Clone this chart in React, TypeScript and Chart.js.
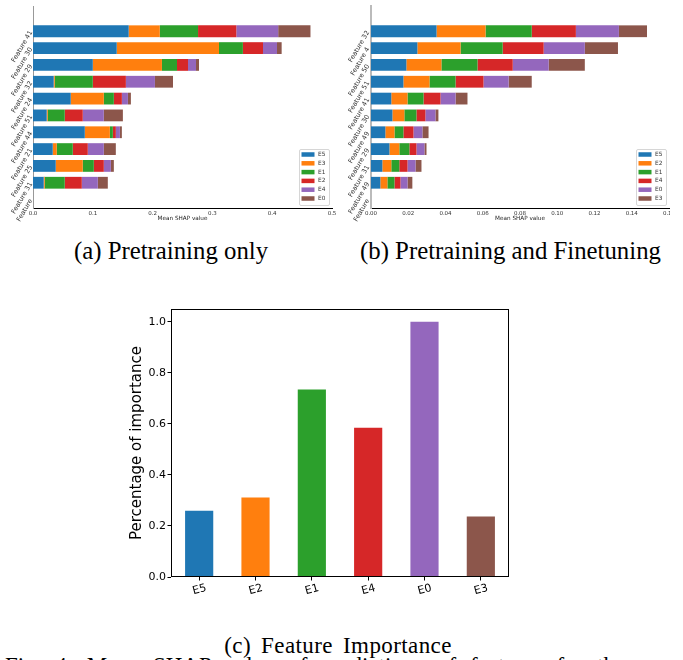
import React, { useEffect, useRef } from 'react';
import { Chart, registerables } from 'chart.js';

Chart.register(...registerables);

// ---------- data ----------
const COLORS = ['#1f77b4', '#ff7f0e', '#2ca02c', '#d62728', '#9467bd', '#8c564b'];

// (a) Pretraining only
const featuresA = ['Feature 41', 'Feature 30', 'Feature 29', 'Feature 32', 'Feature 24', 'Feature 51', 'Feature 44', 'Feature 21', 'Feature 25', 'Feature 31'];
const seriesNamesA = ['E5', 'E3', 'E1', 'E2', 'E4', 'E0'];
const preE5 = [0.160, 0.140, 0.100, 0.0346, 0.0631, 0.0229, 0.0866, 0.033, 0.038, 0.0179];
const preE3 = [0.052, 0.171, 0.1156, 0.0017, 0.0553, 0.0017, 0.0419, 0.0067, 0.0452, 0.0017];
const preE1 = [0.064, 0.040, 0.0252, 0.0637, 0.0168, 0.0285, 0.005, 0.0268, 0.0185, 0.0335];
const preE2 = [0.064, 0.0336, 0.0184, 0.0553, 0.0134, 0.0301, 0.005, 0.0251, 0.0167, 0.0285];
const preE4 = [0.070, 0.0234, 0.0134, 0.0486, 0.0101, 0.0352, 0.0068, 0.0268, 0.0118, 0.0268];
const preE0 = [0.054, 0.0078, 0.005, 0.0302, 0.005, 0.0319, 0.0033, 0.0201, 0.005, 0.0167];
const xTicksA = { max: 0.5, step: 0.1, decimals: 1 };

// (b) Pretraining and Finetuning
const featuresB = ['Feature 32', 'Feature 4', 'Feature 50', 'Feature 51', 'Feature 41', 'Feature 30', 'Feature 49', 'Feature 29', 'Feature 31', 'Feature 49'];
const seriesNamesB = ['E5', 'E2', 'E1', 'E4', 'E0', 'E3'];
const ftE5 = [0.0352, 0.0249, 0.019, 0.0174, 0.0109, 0.0115, 0.0077, 0.0099, 0.0061, 0.005];
const ftE2 = [0.0263, 0.0232, 0.0188, 0.014, 0.0087, 0.0064, 0.0049, 0.0053, 0.0048, 0.0038];
const ftE1 = [0.0248, 0.0226, 0.0194, 0.014, 0.0086, 0.0065, 0.0048, 0.0054, 0.0043, 0.0038];
const ftE4 = [0.0237, 0.022, 0.0189, 0.015, 0.0091, 0.0048, 0.0054, 0.0038, 0.0044, 0.0032];
const ftE0 = [0.0231, 0.0221, 0.0193, 0.0135, 0.0081, 0.0054, 0.0048, 0.0043, 0.0043, 0.0038];
const ftE3 = [0.0151, 0.0178, 0.0194, 0.0124, 0.0064, 0.0016, 0.0033, 0.0011, 0.0032, 0.0026];
const xTicksB = { max: 0.16, step: 0.02, decimals: 2 };

const bottomTickLabel = 'Feature';

// (c) Feature Importance
const importanceLabels = ['E5', 'E2', 'E1', 'E4', 'E0', 'E3'];
const importanceValues = [0.26, 0.311, 0.735, 0.585, 1.0, 0.237];

// ---------- plugins ----------
const boxLegend = {
  id: 'boxLegend',
  afterDraw(chart: any, _args: any, opts: any) {
    const { ctx, chartArea } = chart;
    const ds = chart.data.datasets;
    const w = opts.width, h = opts.height;
    const x = chartArea.right - opts.margin - w;
    const y = chartArea.bottom - opts.margin - h;
    ctx.save();
    ctx.fillStyle = 'rgba(255,255,255,0.85)';
    ctx.strokeStyle = '#cccccc';
    ctx.lineWidth = 0.8;
    ctx.beginPath();
    (ctx as any).roundRect(x + 0.5, y + 0.5, w, h, 1.5);
    ctx.fill();
    ctx.stroke();
    ctx.font = `${opts.fontSize}px "DejaVu Sans"`;
    ctx.textBaseline = 'middle';
    ctx.textAlign = 'left';
    ds.forEach((d: any, i: number) => {
      const cy = y + opts.firstRow + i * opts.rowGap;
      ctx.fillStyle = d.backgroundColor;
      ctx.fillRect(x + opts.swatchX, cy - opts.swatchH / 2, opts.swatchW, opts.swatchH);
      ctx.fillStyle = '#333';
      ctx.fillText(d.label, x + opts.textX, cy);
    });
    ctx.restore();
  },
};

const frame = {
  id: 'frame',
  afterDraw(chart: any) {
    const { ctx, chartArea } = chart;
    const l = Math.round(chartArea.left) + 0.5;
    const t = Math.round(chartArea.top) + 0.5;
    const r = Math.round(chartArea.right) - 0.5;
    const b = Math.round(chartArea.bottom) - 0.5;
    ctx.save();
    ctx.strokeStyle = '#000';
    ctx.lineWidth = 1;
    ctx.strokeRect(l, t, r - l, b - t);
    ctx.restore();
  },
};

// ---------- configs ----------
function shapConfig(features: string[], names: string[], series: number[][], xt: any, geom: any) {
  const datasets = names.map((n, i) => ({
    label: n,
    data: series[i].map((v, j) => ({ x: v, y: j })),
    backgroundColor: COLORS[i],
    borderWidth: 0,
    barPercentage: 0.7,
    categoryPercentage: 1.0,
  }));
  const tickFont = { family: 'DejaVu Sans', size: 5.5 };
  return {
    type: 'bar',
    data: { datasets },
    options: {
      indexAxis: 'y',
      responsive: false,
      animation: false,
      layout: { padding: { top: 6, right: geom.padRight, left: 0, bottom: 0 } },
      plugins: {
        legend: { display: false },
        tooltip: { enabled: false },
        boxLegend: {
          width: 30, height: 56, margin: 3, firstRow: 5.5, rowGap: 8.8,
          swatchX: 2.5, swatchW: 13, swatchH: 4.5, textX: 19, fontSize: 5.8,
        },
      },
      scales: {
        x: {
          type: 'linear',
          stacked: true,
          min: 0,
          max: xt.max,
          ticks: {
            stepSize: xt.step,
            autoSkip: false,
            maxRotation: 0,
            padding: 2,
            color: '#333',
            font: tickFont,
            callback: (v: any) => Number(v).toFixed(xt.decimals),
          },
          grid: { display: false, drawTicks: false },
          border: { display: true, color: '#000', width: 1 },
          title: {
            display: true,
            text: 'Mean SHAP value',
            color: '#222',
            font: { family: 'DejaVu Sans', size: 5.7 },
            padding: { top: 0, bottom: 0 },
          },
          afterFit: (s: any) => {
            s.height = 14;
            s.paddingLeft = 0;
            s.paddingRight = 0;
          },
        },
        y: {
          type: 'linear',
          stacked: true,
          reverse: true,
          min: -1,
          max: features.length,
          ticks: {
            stepSize: 1,
            autoSkip: false,
            minRotation: 60,
            maxRotation: 60,
            padding: geom.yPad,
            color: '#333',
            font: { family: 'DejaVu Sans', size: 6.6 },
            callback: (v: any) => {
              const i = Number(v);
              if (i >= 0 && i < features.length) return features[i];
              if (i === features.length) return bottomTickLabel;
              return '';
            },
          },
          grid: { display: false, drawTicks: false },
          border: { display: true, color: geom.spineColor, width: geom.spineWidth },
          afterFit: (s: any) => {
            s.width = geom.yWidth;
            s.paddingTop = 0;
            s.paddingBottom = 0;
          },
        },
      },
    },
    plugins: [boxLegend],
  };
}

function importanceConfig() {
  const font = { family: 'DejaVu Sans', size: 11 };
  return {
    type: 'bar',
    data: {
      labels: importanceLabels,
      datasets: [
        {
          data: importanceValues,
          backgroundColor: COLORS,
          borderWidth: 0,
          barPercentage: 0.5,
          categoryPercentage: 1.0,
        },
      ],
    },
    options: {
      responsive: false,
      animation: false,
      layout: { padding: { top: 19, right: 11, left: 0, bottom: 0 } },
      plugins: { legend: { display: false }, tooltip: { enabled: false } },
      scales: {
        x: {
          ticks: {
            font,
            color: '#000',
            minRotation: 15,
            maxRotation: 15,
            labelOffset: 7,
            padding: 1,
            autoSkip: false,
          },
          grid: { display: true, drawOnChartArea: false, offset: false, tickLength: 3.5, color: '#000', lineWidth: 1 },
          border: { display: false },
          afterFit: (s: any) => {
            s.height = 33;
            s.paddingLeft = 0;
            s.paddingRight = 0;
          },
        },
        y: {
          min: 0,
          max: 1.05,
          ticks: {
            stepSize: 0.2,
            includeBounds: false,
            font,
            color: '#000',
            padding: 1.5,
            callback: (v: any) => Number(v).toFixed(1),
          },
          grid: { display: true, drawOnChartArea: false, tickLength: 3.5, color: '#000', lineWidth: 1 },
          border: { display: false },
          title: {
            display: true,
            text: 'Percentage of importance',
            color: '#000',
            font: { family: 'DejaVu Sans', size: 15 },
            padding: { top: 28.5, bottom: 0 },
          },
          afterFit: (s: any) => {
            s.width = 71;
            s.paddingTop = 0;
            s.paddingBottom = 0;
          },
        },
      },
    },
    plugins: [frame],
  };
}

// ---------- components ----------
function ChartCanvas({ make, width, height, style }: any) {
  const ref = useRef<HTMLCanvasElement | null>(null);
  useEffect(() => {
    if (!ref.current) return;
    const chart = new Chart(ref.current, make() as any);
    return () => chart.destroy();
  }, []);
  return <canvas ref={ref} width={width} height={height} style={{ position: 'absolute', ...style }} />;
}

const captionStyle: React.CSSProperties = {
  position: 'absolute',
  fontFamily: '"Liberation Serif", "Times New Roman", serif',
  fontSize: '24.8px',
  lineHeight: 1,
  color: '#000',
  whiteSpace: 'nowrap',
  textAlign: 'center',
};

export default function App() {
  return (
    <div
      style={{
        position: 'absolute',
        left: 0,
        top: 0,
        width: 683,
        height: 660,
        overflow: 'hidden',
        background: '#fff',
      }}
    >
      <ChartCanvas
        width={340}
        height={222}
        style={{ left: 0, top: 0 }}
        make={() =>
          shapConfig(featuresA, seriesNamesA, [preE5, preE3, preE1, preE2, preE4, preE0], xTicksA, {
            padRight: 8, yWidth: 33, yPad: 2, spineColor: '#999', spineWidth: 1,
          })
        }
      />
      <ChartCanvas
        width={330}
        height={222}
        style={{ left: 340, top: 0 }}
        make={() =>
          shapConfig(featuresB, seriesNamesB, [ftE5, ftE2, ftE1, ftE4, ftE0, ftE3], xTicksB, {
            padRight: 1, yWidth: 31, yPad: 3, spineColor: '#bbb', spineWidth: 2,
          })
        }
      />
      <ChartCanvas width={420} height={320} style={{ left: 100, top: 290 }} make={importanceConfig} />

      <div style={{ ...captionStyle, left: 21, width: 300, top: 239 }}>(a) Pretraining only</div>
      <div style={{ ...captionStyle, left: 360, width: 300, top: 239 }}>(b) Pretraining and Finetuning</div>
      <div
        style={{
          ...captionStyle,
          fontSize: '23px',
          letterSpacing: '0.4px',
          wordSpacing: '4px',
          left: 188,
          width: 300,
          top: 634,
        }}
      >
        (c) Feature Importance
      </div>
      <div
        style={{
          ...captionStyle,
          fontSize: '23px',
          textAlign: 'left',
          wordSpacing: '8px',
          left: 5,
          top: 654,
        }}
      >
        Fig. 4: Mean SHAP value of predictions of features for the ensemble members
      </div>
    </div>
  );
}
